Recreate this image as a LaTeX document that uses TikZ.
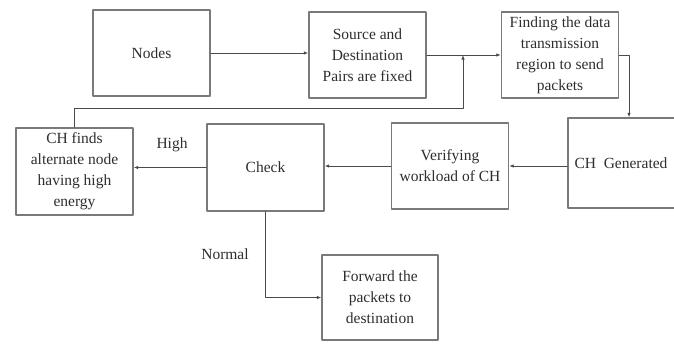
\documentclass[tikz,border=0pt]{standalone}
\usepackage{fontspec}
\setmainfont{Liberation Serif}
\usetikzlibrary{arrows.meta}
\definecolor{boxgray}{HTML}{7A7A7A}
\definecolor{linegray}{HTML}{4A4A4A}
\definecolor{txtgray}{HTML}{2E2E2E}
\tikzset{
    lab/.style={
        font=\fontsize{15.5}{21}\selectfont, text=txtgray
    },
    blk/.style={
        lab, draw=boxgray, line width=1.4pt, align=center,
        minimum width=117pt, minimum height=86pt, inner sep=0pt
    },
    flow/.style={
        draw=linegray, line width=0.8pt, -{Latex[length=4.5pt,width=3.5pt]}
    }
}

\begin{document}
\begin{tikzpicture}[x=1pt,y=-1pt,line cap=round,line join=round]

% --- frame (674 x 343) ---
    \clip (0,0) rectangle (674,343);
    \fill[white] (0,0) rectangle (674,343);

% top row
    \node[blk] (nodes) at (151.5,53)  {Nodes};
    \node[blk] (src)   at (367.5,55)  {Source and\\Destination\\Pairs are fixed};
    \node[blk] (find)  at (560,55)    {Finding the data\\transmission\\region to send\\packets};

% middle row (box runs past the right edge)
    \node[blk, minimum width=122pt, minimum height=90pt] (chgen) at (629,163) {\hspace*{-16pt}CH\ \ Generated};
    \node[blk] (verify) at (450,166)   {Verifying\\workload of CH};
    \node[blk, minimum height=87pt] (check)  at (265.5,167.5) {Check};
    \node[blk, minimum height=87pt] (chfind) at (74.5,171.5)  {CH finds\\alternate node\\having high\\energy};

% bottom
    \node[blk, minimum width=116pt, minimum height=85pt] (fwd) at (380,297.5) {Forward the\\packets to\\destination};

% junction of the feedback line
    \coordinate (jn) at (463,55);
    \coordinate (fb) at (463,108);

% connectors
    \draw[flow] (nodes.east) -- (nodes.east -| src.west);
    \draw[flow] (src) -- (find);
    \draw[flow] (chfind.north) |- (fb) -- (jn);
    \draw[flow] (find.east) -| (chgen.north);
    \draw[flow] (verify.east -| chgen.west) -- (verify.east);
    \draw[flow] (verify.west) -- (verify.west -| check.east);
    \draw[flow] (check.west) -- (check.west -| chfind.east);
    \draw[flow] (check.south) |- (fwd.west);

% branch labels
    \node[lab] (high)   at (172,145) {High};
    \node[lab] (normal) at (225,254) {Normal};

\end{tikzpicture}
\end{document}
